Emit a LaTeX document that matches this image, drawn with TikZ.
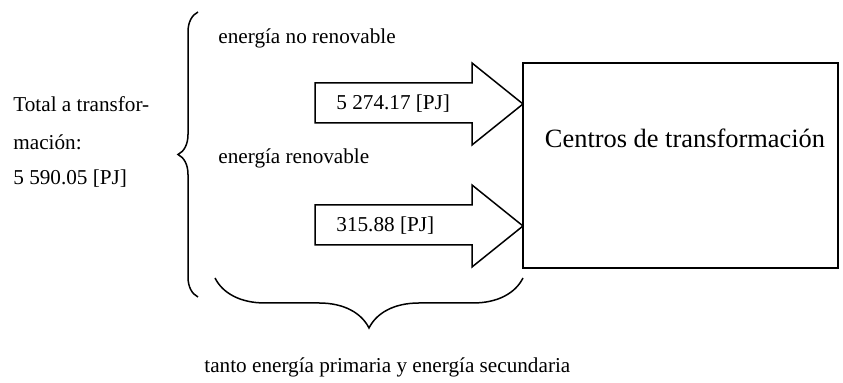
\documentclass[tikz,border=0pt]{standalone}
\usepackage{fontspec}
\setmainfont{Liberation Serif}
\usetikzlibrary{decorations.pathreplacing}
\begin{document}
\begin{tikzpicture}[x=0.5pt,y=-0.5pt,
  lbl/.style={inner sep=0pt,anchor=base west,font=\fontsize{10.6}{12}\selectfont},
  big/.style={inner sep=0pt,anchor=base,font=\fontsize{13.2}{15}\selectfont},
  shp/.style={draw=black,line width=0.75pt,line join=miter},
  brc/.style={draw=black,line width=0.75pt,decorate}]
\useasboundingbox (0,0) rectangle (843,383);
% central box
\draw[shp] (523,63) rectangle (838,268);
\node[big] (ctr) at (685,148) {Centros de transformación};
% arrows
\draw[shp] (315,83) -- (472,83) -- (472,63) -- (523,104) -- (472,145) -- (472,123) -- (315,123) -- cycle;
\draw[shp] (315,205) -- (472,205) -- (472,185) -- (523,226) -- (472,267) -- (472,245) -- (315,245) -- cycle;
\node[lbl] (a1) at (336,110) {5 274.17 [PJ]};
\node[lbl] (a2) at (336,232) {315.88 [PJ]};
% labels
\node[lbl] (nr) at (218,44) {energía no renovable};
\node[lbl] (re) at (218,164) {energía renovable};
\node[lbl] (t1) at (13,112) {Total a transfor-};
\node[lbl] (t2) at (13,150) {mación:};
\node[lbl] (t3) at (13,185) {5 590.05 [PJ]};
\node[lbl] (bt) at (204,373) {tanto energía primaria y energía secundaria};
% braces
\draw[brc,decoration={brace,amplitude=10pt}] (198,297) -- (198,12);
\draw[brc,decoration={brace,amplitude=25pt}] (523,278) -- (215,278);
\end{tikzpicture}
\end{document}
